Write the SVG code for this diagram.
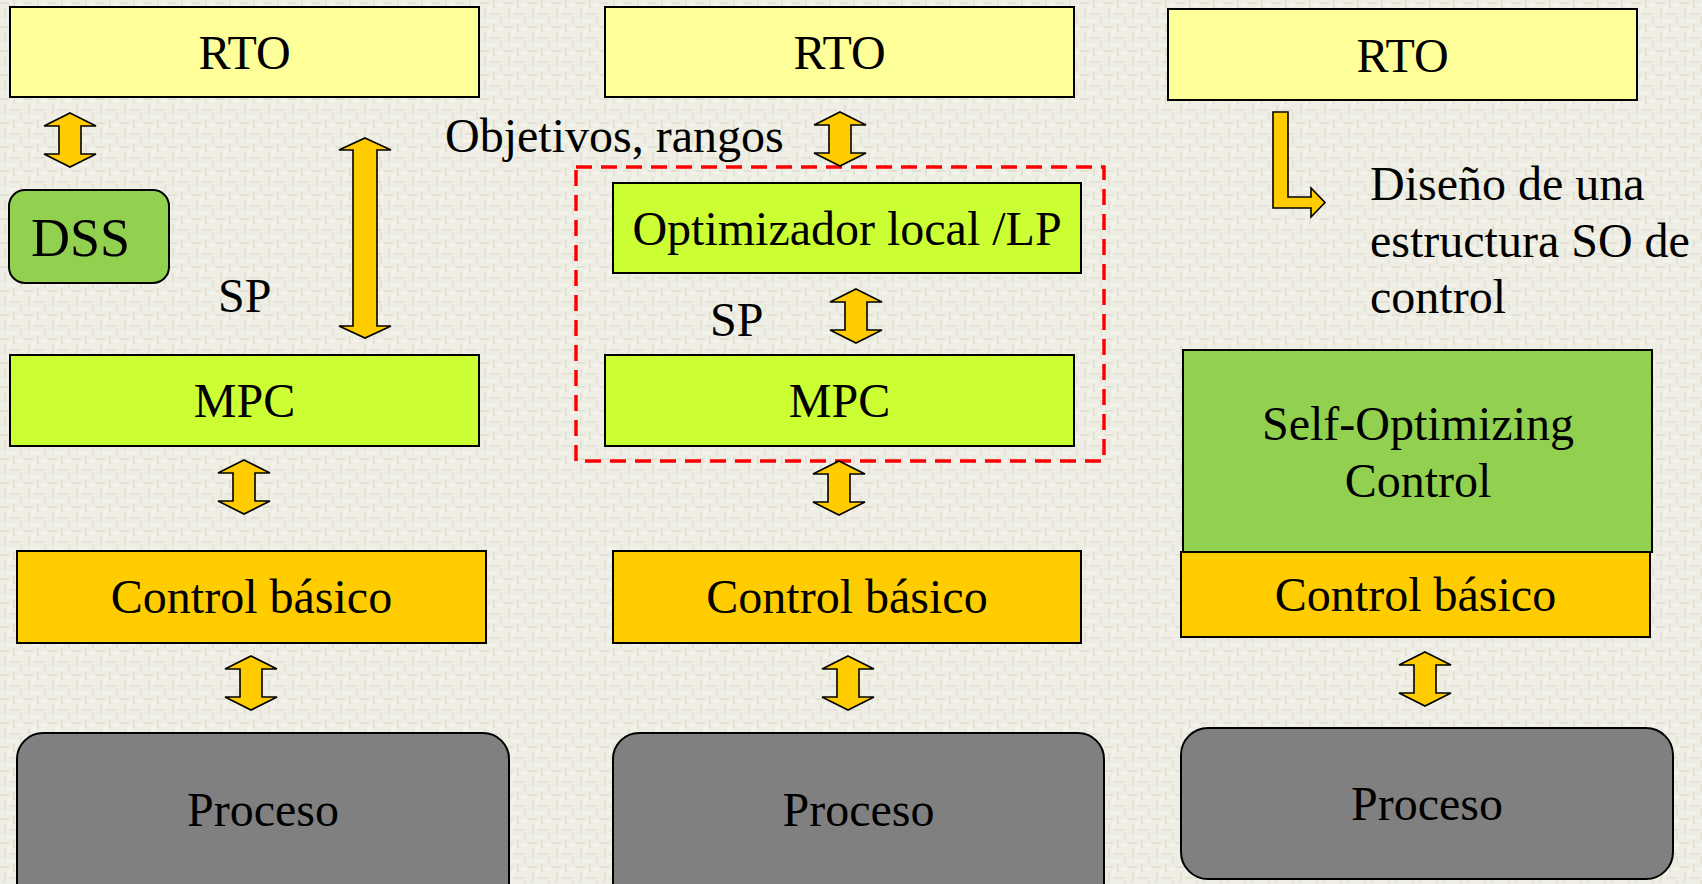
<svg xmlns="http://www.w3.org/2000/svg" width="1702" height="884" viewBox="0 0 1702 884">
<defs>
<pattern id="tex" x="0" y="0" width="24" height="24" patternUnits="userSpaceOnUse">
<rect width="24" height="24" fill="#EFEEE4"/>
<rect x="0" y="2" width="9" height="2" fill="#E4E2D5"/>
<rect x="13" y="0" width="2" height="8" fill="#E5E3D7"/>
<rect x="4" y="9" width="2" height="9" fill="#E3E1D4"/>
<rect x="10" y="13" width="11" height="2" fill="#E4E2D6"/>
<rect x="18" y="4" width="5" height="2" fill="#F7F6EF"/>
<rect x="7" y="20" width="9" height="2" fill="#F6F5ED"/>
<rect x="20" y="16" width="2" height="8" fill="#E6E4D8"/>
<rect x="9" y="6" width="2" height="5" fill="#F7F6EE"/>
</pattern>
<path id="dbl" d="M0,0 L26,13 L11,13 L11,41 L26,41 L0,54 L-26,41 L-11,41 L-11,13 L-26,13 Z"/>
</defs>
<style>
text{font-family:"Liberation Serif","Times New Roman",serif;font-size:48px;fill:#000}
.c{text-anchor:middle}
.box{stroke:#000;stroke-width:2}
.rto{fill:#FFFF99}
.mpc{fill:#CCFF33}
.cb{fill:#FFCC00}
.pr{fill:#808080}
.gr{fill:#92D050}
.arr{fill:#FFCC00;stroke:#000;stroke-width:1.6;stroke-linejoin:miter}
</style>
<rect width="1702" height="884" fill="url(#tex)"/>

<!-- Column 1 -->
<g id="rto1"><rect class="box rto" x="10" y="7" width="469" height="90"/><text class="c" x="244.5" y="69">RTO</text></g>
<g id="dss"><rect class="box gr" x="9" y="190" width="160" height="93" rx="16"/><text x="31" y="256" style="font-size:54px">DSS</text></g>
<g id="sp1"><text x="218" y="312">SP</text></g>
<g id="mpc1"><rect class="box mpc" x="10" y="355" width="469" height="91"/><text class="c" x="244.5" y="417">MPC</text></g>
<g id="cb1"><rect class="box cb" x="17" y="551" width="469" height="92"/><text class="c" x="251.5" y="613">Control básico</text></g>
<g id="proc1"><rect class="box pr" x="17" y="733" width="492" height="180" rx="26"/><text class="c" x="263" y="826">Proceso</text></g>

<!-- Column 2 -->
<g id="rto2"><rect class="box rto" x="605" y="7" width="469" height="90"/><text class="c" x="839.5" y="69">RTO</text></g>
<g id="lbl-obj"><text x="445" y="152">Objetivos, rangos</text></g>
<g id="group-dashed"><rect x="576" y="167" width="528" height="294" fill="none" stroke="#FF0000" stroke-width="3.5" stroke-dasharray="16,9"/></g>
<g id="opt"><rect class="box mpc" x="613" y="183" width="468" height="90"/><text class="c" x="847" y="245">Optimizador local /LP</text></g>
<g id="sp2"><text x="710" y="336">SP</text></g>
<g id="mpc2"><rect class="box mpc" x="605" y="355" width="469" height="91"/><text class="c" x="839.5" y="417">MPC</text></g>
<g id="cb2"><rect class="box cb" x="613" y="551" width="468" height="92"/><text class="c" x="847" y="613">Control básico</text></g>
<g id="proc2"><rect class="box pr" x="613" y="733" width="491" height="180" rx="26"/><text class="c" x="858.5" y="826">Proceso</text></g>

<!-- Column 3 -->
<g id="rto3"><rect class="box rto" x="1168" y="9" width="469" height="91"/><text class="c" x="1402.5" y="72">RTO</text></g>
<g id="lbl-diseno"><text x="1370" y="200">Diseño de una</text><text x="1370" y="257">estructura SO de</text><text x="1370" y="313">control</text></g>
<g id="soc"><rect class="box gr" x="1183" y="350" width="469" height="202"/><text class="c" x="1418" y="440">Self-Optimizing</text><text class="c" x="1418" y="497">Control</text></g>
<g id="cb3"><rect class="box cb" x="1181" y="552" width="469" height="85"/><text class="c" x="1415.5" y="611">Control básico</text></g>
<g id="proc3"><rect class="box pr" x="1181" y="728" width="492" height="151" rx="27"/><text class="c" x="1427" y="820">Proceso</text></g>

<!-- Connectors -->
<g id="connectors">
<use href="#dbl" class="arr" transform="translate(70,113)"/>
<path class="arr" d="M365,138 L391,150 L377,150 L377,326 L391,326 L365,338 L339,326 L353,326 L353,150 L339,150 Z"/>
<use href="#dbl" class="arr" transform="translate(244,460)"/>
<use href="#dbl" class="arr" transform="translate(251,656)"/>
<use href="#dbl" class="arr" transform="translate(840,112)"/>
<use href="#dbl" class="arr" transform="translate(856,289)"/>
<use href="#dbl" class="arr" transform="translate(839,461)"/>
<use href="#dbl" class="arr" transform="translate(848,656)"/>
<use href="#dbl" class="arr" transform="translate(1425,652)"/>
<path class="arr" d="M1273,112 L1288,112 L1288,197 L1311,197 L1311,188 L1325,202.5 L1311,217 L1311,208 L1273,208 Z"/>
</g>
</svg>
